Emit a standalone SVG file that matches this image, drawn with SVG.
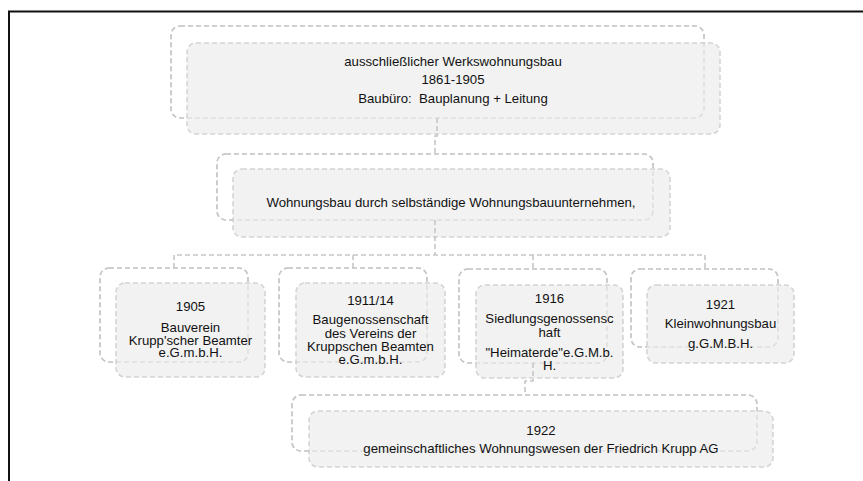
<svg xmlns="http://www.w3.org/2000/svg" width="863" height="481" viewBox="0 0 863 481">
<style>
.bk{fill:none;stroke:#c6c6c6;stroke-width:1.6;stroke-dasharray:5 3}
.bk2{fill:none;stroke:#c6c6c6;stroke-width:1.6;stroke-dasharray:5 3;opacity:0.45}
.fr{fill:#f2f2f2;stroke:#d4d4d4;stroke-width:1.6;stroke-dasharray:5 3}
.cn{fill:none;stroke:#c6c6c6;stroke-width:1.6;stroke-dasharray:5 3}
text{font-family:"Liberation Sans",Arial,sans-serif;font-size:13.2px;fill:#111;text-anchor:middle}
</style>
<rect x="0" y="0" width="863" height="481" fill="#fff"/>
<path d="M9 481 V11.5 H863" fill="none" stroke="#111" stroke-width="2"/>
<g id="n1">
<rect class="bk" x="171" y="26" width="533" height="92" rx="9"/>
<rect class="fr" x="187" y="43" width="533" height="91" rx="9"/>
<rect class="bk2" x="171" y="26" width="533" height="92" rx="9"/>
<text x="453" y="65.5">ausschließlicher Werkswohnungsbau</text>
<text x="453" y="83.5">1861-1905</text>
<text x="453" y="102.5" xml:space="preserve">Baubüro:  Bauplanung + Leitung</text>
</g>
<g id="n2">
<rect class="bk" x="217" y="154" width="436" height="66" rx="9"/>
<rect class="fr" x="233" y="169" width="437" height="68" rx="9"/>
<rect class="bk2" x="217" y="154" width="436" height="66" rx="9"/>
<text x="451" y="206.5">Wohnungsbau durch selbständige Wohnungsbauunternehmen,</text>
</g>
<g id="n3">
<rect class="bk" x="100" y="268" width="148" height="94" rx="9"/>
<rect class="fr" x="116" y="283" width="149" height="94" rx="9"/>
<rect class="bk2" x="100" y="268" width="148" height="94" rx="9"/>
<text x="190.5" y="310.5">1905</text>
<text x="190.5" y="331.5">Bauverein</text>
<text x="190.5" y="345">Krupp'scher Beamter</text>
<text x="190.5" y="357">e.G.m.b.H.</text>
</g>
<g id="n4">
<rect class="bk" x="279" y="268" width="148" height="94" rx="9"/>
<rect class="fr" x="296" y="283" width="149" height="94" rx="9"/>
<rect class="bk2" x="279" y="268" width="148" height="94" rx="9"/>
<text x="370.5" y="304.5">1911/14</text>
<text x="370.5" y="323.5">Baugenossenschaft</text>
<text x="370.5" y="337.5">des Vereins der</text>
<text x="370.5" y="351">Kruppschen Beamten</text>
<text x="370.5" y="364">e.G.m.b.H.</text>
</g>
<g id="n5">
<rect class="bk" x="459" y="269" width="148" height="94" rx="9"/>
<rect class="fr" x="476" y="285" width="147" height="93" rx="9"/>
<rect class="bk2" x="459" y="269" width="148" height="94" rx="9"/>
<text x="549.5" y="302.5">1916</text>
<text x="549.5" y="323">Siedlungsgenossensc</text>
<text x="549.5" y="337">haft</text>
<text x="549.5" y="356.5">"Heimaterde"e.G.M.b.</text>
<text x="549.5" y="370">H.</text>
</g>
<g id="n6">
<rect class="bk" x="631" y="269" width="147" height="78" rx="9"/>
<rect class="fr" x="647" y="285" width="147" height="78" rx="9"/>
<rect class="bk2" x="631" y="269" width="147" height="78" rx="9"/>
<text x="720.5" y="308.5">1921</text>
<text x="720.5" y="327.5">Kleinwohnungsbau</text>
<text x="720.5" y="347.5">g.G.M.B.H.</text>
</g>
<g id="n7">
<rect class="bk" x="292" y="395" width="465" height="56" rx="9"/>
<rect class="fr" x="309" y="411" width="464" height="56" rx="9"/>
<rect class="bk2" x="292" y="395" width="465" height="56" rx="9"/>
<text x="541" y="434.5">1922</text>
<text x="541" y="452.5">gemeinschaftliches Wohnungswesen der Friedrich Krupp AG</text>
</g>
<g id="connectors">
<path class="cn" d="M437 118 V136 H435 V154"/>
<path class="cn" d="M435 220 V255"/>
<path class="cn" d="M174 268 V255 H705 V269"/>
<path class="cn" d="M353 255 V268"/>
<path class="cn" d="M533 255 V269"/>
<path class="cn" d="M533 363 V381 H525 V395"/>
</g>
</svg>
